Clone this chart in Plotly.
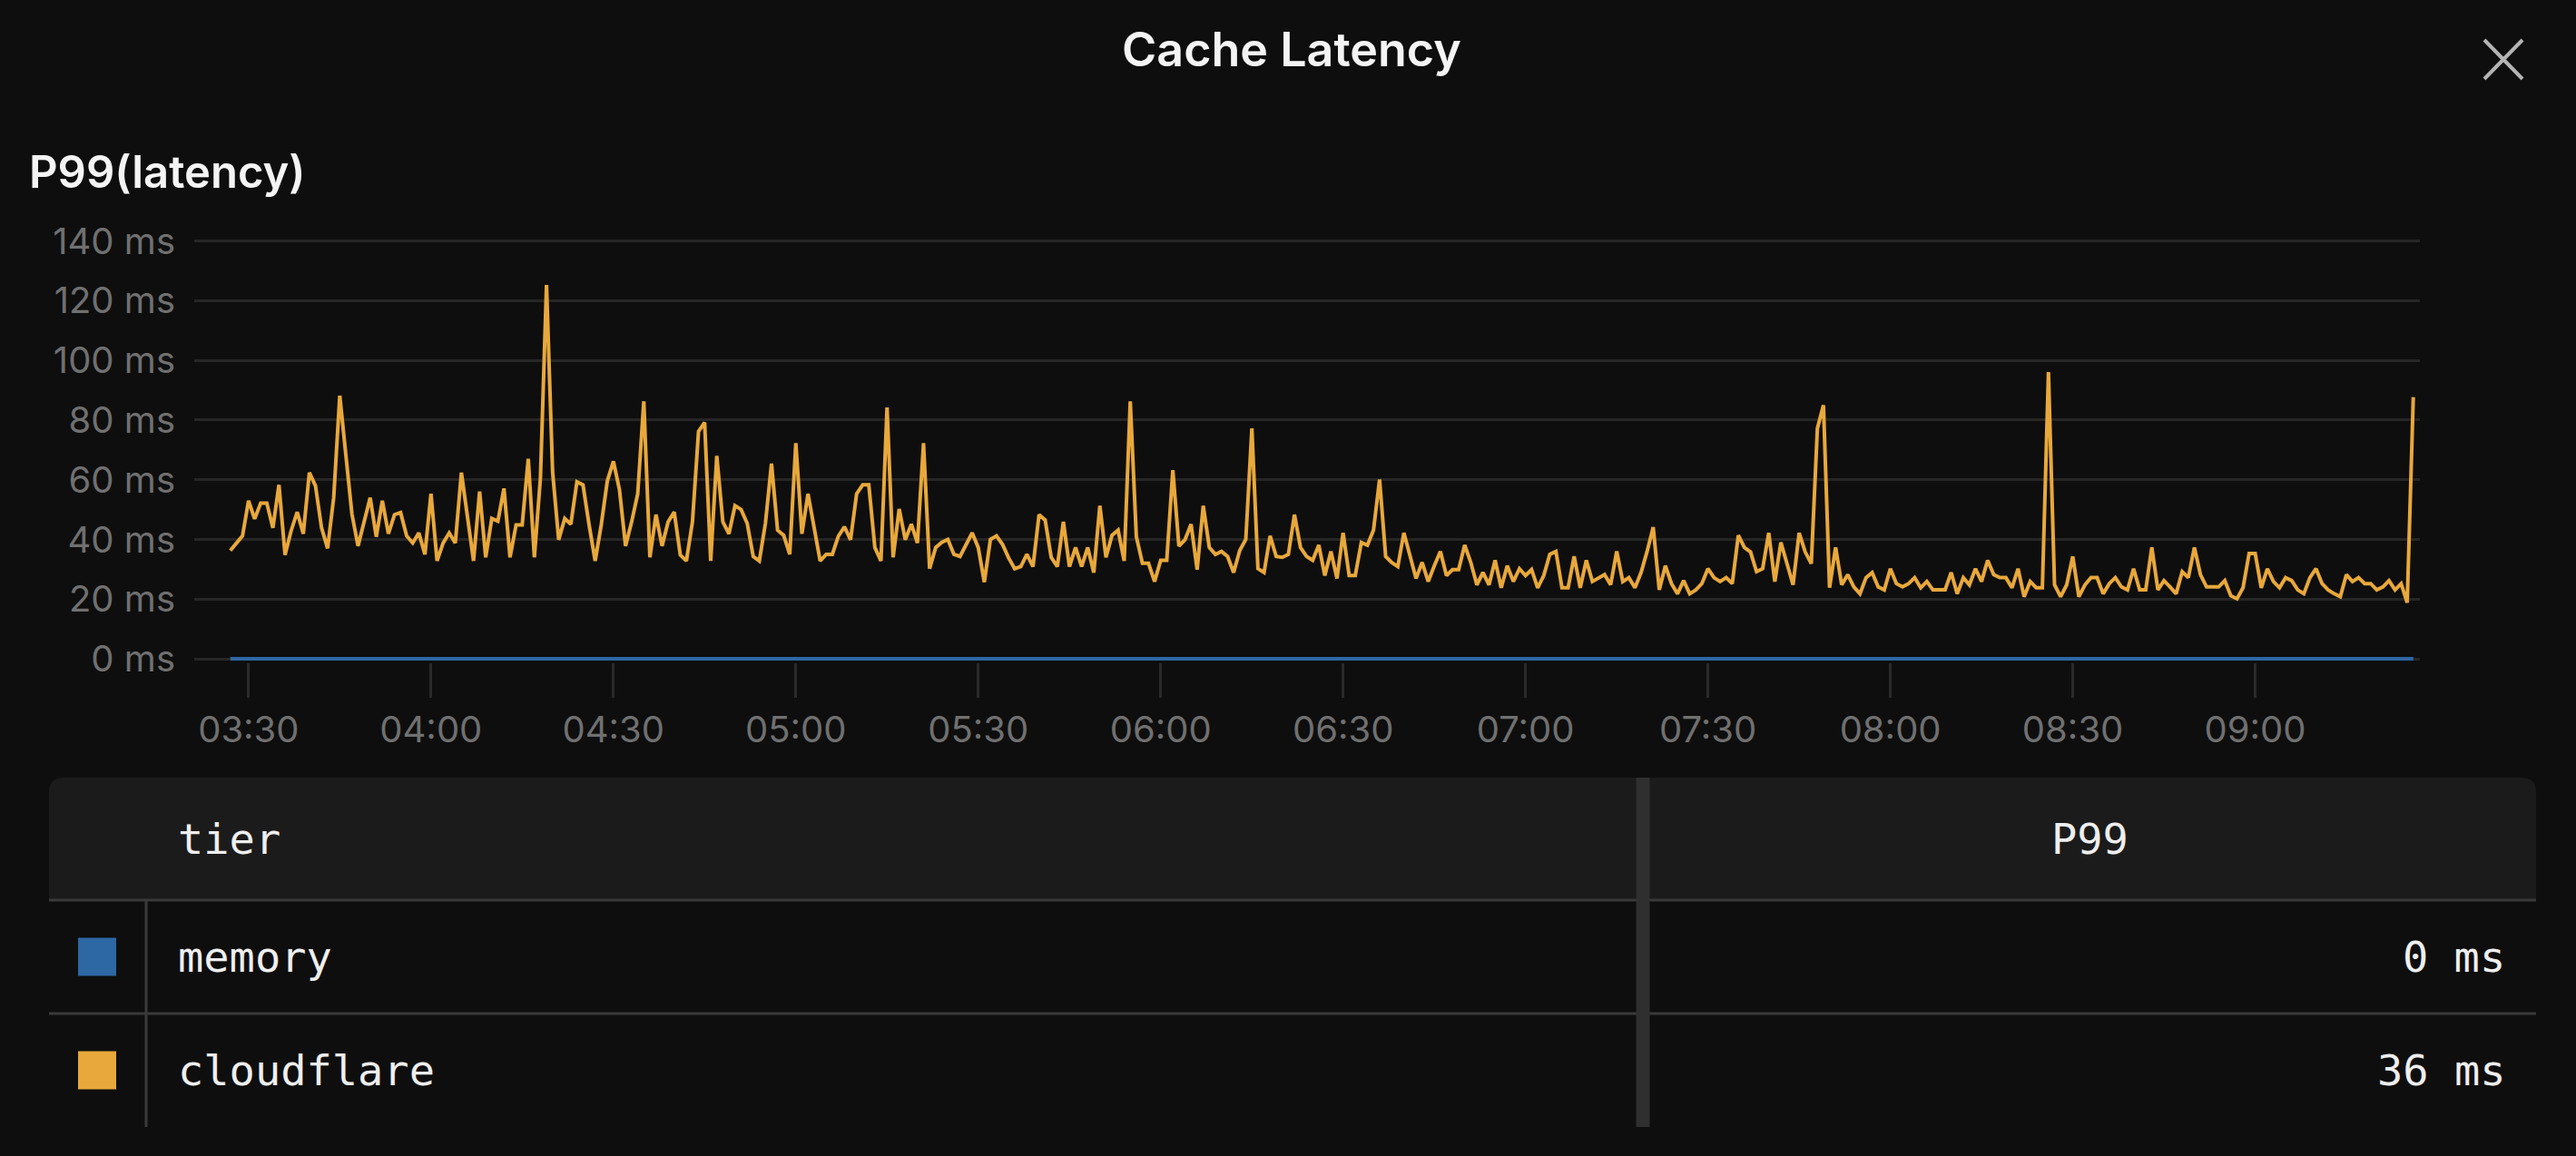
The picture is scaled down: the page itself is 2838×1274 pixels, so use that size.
import plotly.graph_objects as go
import pandas as pd

# ---------------- data ----------------
start_time = "2024-01-01 03:27"          # first sample, one sample per minute
cloudflare_ms = [
    36.3, 38.8, 41.2, 53.0, 46.9, 52.2, 52.2, 43.9, 58.3, 34.8,
    42.9, 49.2, 41.9, 62.4, 58.0, 43.9, 37.0, 54.0, 88.2, 68.3,
    48.5, 37.8, 45.4, 54.0, 40.9, 53.0, 41.9, 48.3, 49.0, 41.2,
    38.8, 42.2, 35.0, 55.3, 32.8, 38.8, 42.2, 38.8, 62.4, 47.5,
    32.8, 56.1, 34.0, 47.0, 46.1, 57.1, 34.0, 44.9, 44.9, 67.0,
    34.0, 60.6, 125.3, 62.7, 39.9, 47.0, 45.1, 59.3, 58.3, 44.9,
    32.8, 44.9, 59.6, 66.2, 56.6, 37.8, 45.9, 55.3, 86.3, 34.0,
    48.3, 37.8, 45.9, 49.2, 34.8, 32.8, 45.9, 76.2, 79.2, 32.8,
    68.0, 45.9, 41.9, 51.3, 50.0, 45.4, 34.3, 32.8, 45.4, 65.4,
    43.1, 41.4, 35.0, 72.3, 41.9, 55.3, 43.9, 32.8, 35.0, 35.0,
    41.1, 44.2, 39.9, 55.3, 58.3, 58.3, 37.3, 32.8, 84.2, 34.0,
    50.2, 39.9, 45.1, 38.8, 72.3, 30.2, 37.3, 39.0, 40.0, 35.0,
    34.3, 38.3, 42.2, 37.3, 25.7, 40.0, 41.2, 38.3, 33.8, 30.2,
    30.9, 35.0, 30.9, 48.3, 46.5, 34.0, 30.9, 45.9, 30.9, 37.3,
    30.9, 37.3, 28.9, 51.3, 34.0, 41.4, 43.1, 32.8, 86.3, 40.9,
    32.0, 32.0, 25.9, 33.0, 33.0, 63.2, 37.8, 39.9, 45.1, 29.9,
    51.3, 37.3, 35.0, 36.0, 34.3, 28.9, 36.3, 40.0, 77.2, 30.2,
    28.9, 41.2, 34.3, 34.0, 35.0, 48.3, 37.3, 34.3, 33.0, 38.1,
    27.9, 36.0, 26.9, 42.2, 27.9, 27.9, 39.0, 38.1, 43.1, 60.1,
    34.3, 32.3, 30.9, 42.2, 34.3, 26.9, 32.3, 25.9, 31.2, 36.0,
    27.9, 29.9, 29.9, 38.1, 32.3, 24.8, 28.9, 24.8, 33.0, 23.8,
    31.2, 25.9, 30.2, 27.9, 29.9, 23.8, 27.9, 35.0, 36.0, 23.8,
    23.8, 34.3, 23.8, 33.0, 25.9, 26.9, 28.2, 24.8, 36.0, 25.9,
    27.2, 23.8, 28.9, 36.0, 44.1, 23.1, 31.2, 25.2, 21.8, 26.2,
    21.8, 23.1, 25.2, 30.2, 27.2, 25.9, 27.2, 25.2, 41.4, 37.3,
    35.8, 29.2, 30.2, 42.2, 25.9, 39.0, 31.9, 24.8, 42.2, 35.8,
    31.9, 77.2, 85.0, 23.8, 37.3, 24.8, 28.2, 24.1, 21.8, 27.2,
    28.9, 24.1, 23.1, 30.2, 25.2, 24.1, 25.2, 27.2, 23.8, 25.9,
    23.1, 23.1, 23.1, 28.9, 21.8, 27.2, 24.8, 30.2, 25.9, 33.0,
    28.2, 27.2, 27.2, 23.8, 30.2, 20.8, 25.9, 23.8, 23.8, 96.1,
    24.8, 20.8, 24.8, 34.3, 20.8, 24.8, 27.2, 27.2, 21.8, 25.2,
    27.2, 24.1, 23.1, 30.2, 23.1, 23.1, 37.3, 23.1, 26.2, 24.1,
    21.8, 29.2, 27.2, 37.3, 28.2, 24.1, 24.1, 24.1, 26.2, 21.1,
    20.1, 23.8, 35.3, 35.3, 23.8, 30.2, 25.9, 23.8, 27.2, 26.2,
    23.1, 21.8, 27.2, 30.2, 25.2, 23.1, 21.8, 20.8, 28.2, 25.9,
    27.2, 25.2, 25.2, 23.1, 24.1, 26.2, 23.1, 25.2, 18.8, 87.7,
]
memory_ms = [0] * len(cloudflare_ms)      # memory tier stays flat at 0 ms

tiers = ["memory", "cloudflare"]
tier_colors = ["#2d67a4", "#e8a83b"]
tier_p99_ms = [0, 36]
table_headers = ["tier", "P99"]
y_tick_values = [0, 20, 40, 60, 80, 100, 120, 140]

chart_title = "Cache Latency"
panel_title = "P99(latency)"

series = {"memory": memory_ms, "cloudflare": cloudflare_ms}
times = pd.date_range(start_time, periods=len(cloudflare_ms), freq="min")

# ---------------- geometry (pixels) ----------------
W, H = 2838, 1274
ML, MR, MT, MB = 214, 172, 264, 544
PW = W - ML - MR
PH = H - MT - MB
PB = H - MB


def px(x):
    return (x - ML) / PW


def py(y):
    return (PB - y) / PH


BG = "#0e0e0e"
GRID = "#262626"
TICKTXT = "#707070"
WHITE = "#eeeeee"
SANS = "Inter"
MONO = "DejaVu Sans Mono"

fig = go.Figure()
for name, color in zip(tiers, tier_colors):
    fig.add_trace(go.Scatter(
        x=times, y=series[name], mode="lines", name=name,
        line=dict(color=color, width=4), hoverinfo="x+y+name",
    ))

shapes = []
annotations = []

# chart title & panel title
annotations.append(dict(text=chart_title, x=px(1423), y=py(54), xref="paper", yref="paper",
                        xanchor="center", yanchor="middle", showarrow=False,
                        font=dict(family=SANS, size=52, color="#f4f4f4", weight=600)))
annotations.append(dict(text=panel_title, x=px(30), y=py(189), xref="paper", yref="paper",
                        xanchor="left", yanchor="middle", showarrow=False,
                        font=dict(family=SANS, size=49, color="#f4f4f4", weight=600)))

# close button "X"
for (x0, y0, x1, y1) in [(2737, 44, 2779, 87), (2737, 87, 2779, 44)]:
    shapes.append(dict(type="line", xref="paper", yref="paper",
                       x0=px(x0), y0=py(y0), x1=px(x1), y1=py(y1),
                       line=dict(color="#b4b4b4", width=4)))

# ---------------- table ----------------
TL, TR, TT = 54, 2794, 857
HEAD_B = 992
ROW_H = 125
TB = 1242
R = 16
COL_DIV = 1810
SW_DIV = 161
TEXT_X = 194

hdr_path = (f"M {px(TL)},{py(HEAD_B)} L {px(TL)},{py(TT + R)} "
            f"Q {px(TL)},{py(TT)} {px(TL + R)},{py(TT)} "
            f"L {px(TR - R)},{py(TT)} Q {px(TR)},{py(TT)} {px(TR)},{py(TT + R)} "
            f"L {px(TR)},{py(HEAD_B)} Z")
shapes.append(dict(type="path", path=hdr_path, xref="paper", yref="paper",
                   fillcolor="#1b1b1b", line=dict(width=0), layer="below"))

# horizontal separators
for i in range(len(tiers)):
    ysep = HEAD_B + i * ROW_H
    shapes.append(dict(type="line", xref="paper", yref="paper",
                       x0=px(TL), x1=px(TR), y0=py(ysep), y1=py(ysep),
                       line=dict(color="#3a3a3a", width=3)))

# swatch column divider
shapes.append(dict(type="line", xref="paper", yref="paper",
                   x0=px(SW_DIV), x1=px(SW_DIV), y0=py(HEAD_B), y1=py(TB),
                   line=dict(color="#3a3a3a", width=3)))
# column divider (thick)
shapes.append(dict(type="line", xref="paper", yref="paper",
                   x0=px(COL_DIV), x1=px(COL_DIV), y0=py(TT), y1=py(TB),
                   line=dict(color="#2f2f2f", width=15)))

head_y = (TT + HEAD_B) / 2
annotations.append(dict(text=table_headers[0], x=px(TEXT_X), y=py(head_y), xref="paper", yref="paper",
                        xanchor="left", yanchor="middle", showarrow=False,
                        font=dict(family=MONO, size=47, color=WHITE)))
annotations.append(dict(text=table_headers[1], x=px((COL_DIV + TR) / 2), y=py(head_y),
                        xref="paper", yref="paper", xanchor="center", yanchor="middle",
                        showarrow=False, font=dict(family=MONO, size=47, color=WHITE)))

for i, (name, color, val) in enumerate(zip(tiers, tier_colors, tier_p99_ms)):
    yc = HEAD_B + ROW_H * (i + 0.5)
    shapes.append(dict(type="rect", xref="paper", yref="paper",
                       x0=px(86), x1=px(128), y0=py(yc - 21), y1=py(yc + 21),
                       fillcolor=color, line=dict(width=0)))
    annotations.append(dict(text=name, x=px(TEXT_X), y=py(yc), xref="paper", yref="paper",
                            xanchor="left", yanchor="middle", showarrow=False,
                            font=dict(family=MONO, size=47, color=WHITE)))
    annotations.append(dict(text=f"{val} ms", x=px(2762), y=py(yc), xref="paper", yref="paper",
                            xanchor="right", yanchor="middle", showarrow=False,
                            font=dict(family=MONO, size=47, color=WHITE)))

fig.update_layout(
    width=W, height=H, autosize=False,
    margin=dict(l=ML, r=MR, t=MT, b=MB, pad=0),
    paper_bgcolor=BG, plot_bgcolor=BG,
    showlegend=False,
    shapes=shapes, annotations=annotations,
    font=dict(family=SANS, color=TICKTXT),
)
fig.update_xaxes(
    type="date",
    range=["2024-01-01 03:21:04", "2024-01-01 09:27:05"],
    dtick=30 * 60 * 1000, tickformat="%H:%M",
    showgrid=False, zeroline=False, showline=False,
    ticks="outside", ticklen=38, tickwidth=3, tickcolor="#2a2a2a",
    tickfont=dict(family=SANS, size=40, color=TICKTXT),
    ticklabelstandoff=1,
)
fig.update_yaxes(
    range=[-1.2, 140.5],
    tickvals=y_tick_values, ticktext=[f"{v} ms" for v in y_tick_values],
    showgrid=True, gridcolor=GRID, gridwidth=3,
    zeroline=False, showline=False, ticks="",
    tickfont=dict(family=SANS, size=40, color=TICKTXT),
    ticklabelstandoff=20,
)

fig.write_html("out.html", config={"displayModeBar": False},
               post_script="document.body.style.margin='0';document.body.style.background='#0e0e0e';")
